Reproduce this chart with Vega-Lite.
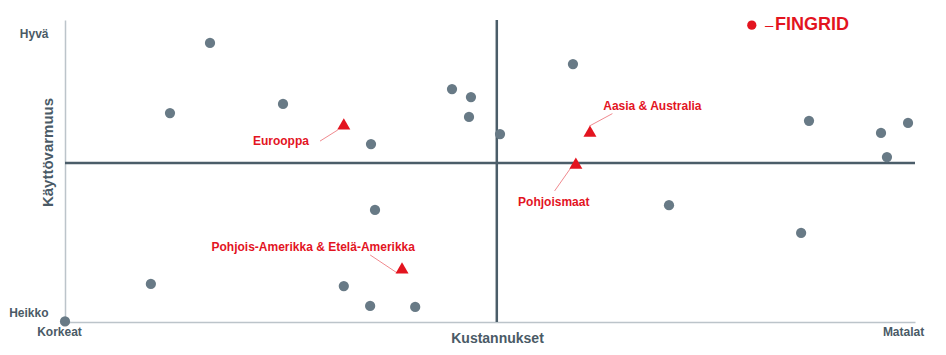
{
  "$schema": "https://vega.github.io/schema/vega-lite/v6.json",
  "width": 850,
  "height": 302,
  "autosize": "none",
  "padding": {"left": 65, "top": 20, "right": 31, "bottom": 33},
  "background": "white",
  "config": {"view": {"stroke": null}, "font": "Liberation Sans"},
  "datasets": {
    "cross": [
      {"x": 50.8, "y": 0, "x2": 50.8, "y2": 100},
      {"x": 0, "y": 52.65, "x2": 100, "y2": 52.65}
    ],
    "leaders": [
      {"x": 30.0, "y": 59.9, "x2": 32.1, "y2": 63.6},
      {"x": 64.4, "y": 69.0, "x2": 61.7, "y2": 64.9},
      {"x": 57.6, "y": 43.4, "x2": 59.5, "y2": 51.0},
      {"x": 35.9, "y": 22.2, "x2": 39.1, "y2": 16.2}
    ],
    "points": [
      {"x": 17.06, "y": 92.4}, {"x": 12.35, "y": 69.2}, {"x": 25.65, "y": 72.2},
      {"x": 36.0, "y": 58.9}, {"x": 45.53, "y": 77.15}, {"x": 47.76, "y": 74.5},
      {"x": 47.53, "y": 67.9}, {"x": 51.18, "y": 62.25}, {"x": 59.76, "y": 85.4},
      {"x": 87.53, "y": 66.6}, {"x": 96.0, "y": 62.6}, {"x": 99.18, "y": 65.9},
      {"x": 96.7, "y": 54.6}, {"x": 36.47, "y": 37.1}, {"x": 32.8, "y": 11.9},
      {"x": 35.9, "y": 5.3}, {"x": 41.2, "y": 5.0}, {"x": 10.1, "y": 12.6},
      {"x": 0.0, "y": 0.2}, {"x": 71.06, "y": 38.7}, {"x": 86.6, "y": 29.5}
    ],
    "regions": [
      {"region": "Eurooppa", "x": 32.8, "y": 65.6, "lx": 25.4, "ly": 59.9},
      {"region": "Aasia & Australia", "x": 61.76, "y": 63.2, "lx": 69.1, "ly": 71.5},
      {"region": "Pohjoismaat", "x": 60.1, "y": 52.6, "lx": 57.5, "ly": 39.7},
      {"region": "Pohjois-Amerikka & Etelä-Amerikka", "x": 39.65, "y": 17.9, "lx": 29.2, "ly": 24.9}
    ],
    "legend": [
      {"name": "FINGRID", "x": 80.8, "y": 98.3, "dx": 82.35, "tx": 83.53}
    ]
  },
  "encoding": {
    "x": {
      "field": "x", "type": "quantitative",
      "scale": {"domain": [0, 100], "nice": false, "zero": false},
      "axis": {
        "title": "Kustannukset",
        "values": [0, 99.3],
        "labelExpr": "datum.value < 50 ? 'Korkeat' : 'Matalat'",
        "ticks": false, "grid": false,
        "domainColor": "#bcc4ca", "domainWidth": 1.5,
        "labelFont": "Liberation Sans", "labelFontWeight": "bold", "labelFontSize": 12,
        "labelColor": "#4a5a66", "labelPadding": 4, "labelOffset": -6,
        "labelOverlap": false, "labelFlush": false, "labelBound": false,
        "titleFont": "Liberation Sans", "titleFontSize": 14, "titleFontWeight": "bold",
        "titleColor": "#4a5a66", "titleX": 432, "titleY": 16,
        "titleAlign": "center", "titleBaseline": "middle"
      }
    },
    "y": {
      "field": "y", "type": "quantitative",
      "scale": {"domain": [0, 100], "nice": false, "zero": false},
      "axis": {
        "title": "Käyttövarmuus",
        "values": [3, 95.5],
        "labelExpr": "datum.value < 50 ? 'Heikko' : 'Hyvä'",
        "ticks": false, "grid": false,
        "domainColor": "#bcc4ca", "domainWidth": 1.5,
        "labelFont": "Liberation Sans", "labelFontWeight": "bold", "labelFontSize": 12,
        "labelColor": "#4a5a66", "labelPadding": 17,
        "labelOverlap": false, "labelFlush": false, "labelBound": false,
        "titleFont": "Liberation Sans", "titleFontSize": 15, "titleFontWeight": "bold",
        "titleColor": "#4a5a66", "titleX": -18, "titleY": 132, "titleAngle": 270,
        "titleAlign": "center", "titleBaseline": "middle"
      }
    }
  },
  "layer": [
    {
      "data": {"name": "cross"},
      "mark": {"type": "rule", "color": "#4b5d69", "strokeWidth": 2.5},
      "encoding": {"x2": {"field": "x2"}, "y2": {"field": "y2"}}
    },
    {
      "data": {"name": "leaders"},
      "mark": {"type": "rule", "color": "#f08a8f", "strokeWidth": 1},
      "encoding": {"x2": {"field": "x2"}, "y2": {"field": "y2"}}
    },
    {
      "data": {"name": "points"},
      "mark": {"type": "point", "shape": "circle", "filled": true, "opacity": 1, "size": 105, "color": "#687a86", "clip": false}
    },
    {
      "data": {"name": "regions"},
      "mark": {"type": "point", "shape": "triangle-up", "filled": true, "opacity": 1, "size": 169, "color": "#e3141f"}
    },
    {
      "data": {"name": "regions"},
      "mark": {"type": "text", "font": "Liberation Sans", "fontWeight": "bold", "fontSize": 12, "color": "#e3141f", "align": "center", "baseline": "middle"},
      "encoding": {
        "x": {"field": "lx", "type": "quantitative"},
        "y": {"field": "ly", "type": "quantitative"},
        "text": {"field": "region"}
      }
    },
    {
      "data": {"name": "legend"},
      "mark": {"type": "point", "shape": "circle", "filled": true, "opacity": 1, "size": 85, "color": "#e3141f"}
    },
    {
      "data": {"name": "legend"},
      "mark": {"type": "text", "font": "Liberation Sans", "fontWeight": "normal", "fontSize": 15, "color": "#e3141f", "align": "left", "baseline": "middle", "text": "–"},
      "encoding": {"x": {"field": "dx", "type": "quantitative"}}
    },
    {
      "data": {"name": "legend"},
      "mark": {"type": "text", "font": "Liberation Sans", "fontWeight": "bold", "fontSize": 18, "color": "#e3141f", "align": "left", "baseline": "middle"},
      "encoding": {"x": {"field": "tx", "type": "quantitative"}, "text": {"field": "name"}}
    }
  ]
}
